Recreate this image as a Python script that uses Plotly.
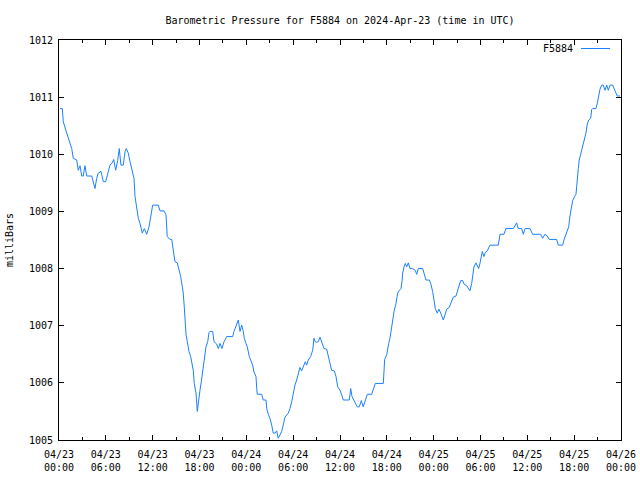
import pandas as pd
import plotly.graph_objects as go

# hours since 2024-04-23 00:00 UTC
hours = [0.13, 0.42, 0.55, 0.77, 0.99, 1.28, 1.63, 1.83, 2.27, 2.47, 2.69, 2.91, 3.11, 3.33, 3.55,
         4.19, 4.39, 4.61, 4.83, 5.03, 5.38, 5.68, 5.98, 6.24, 6.53, 6.83, 7.01, 7.26, 7.52, 7.72,
         7.94, 8.24, 8.46, 8.62, 8.88, 9.10, 9.39, 9.61, 9.74, 9.95, 10.16, 10.38, 10.67, 10.93,
         11.24, 11.53, 11.79, 12.00, 12.72, 12.94, 13.45, 13.71, 13.87, 14.22, 14.44, 14.64, 14.86,
         15.15, 15.41, 15.59, 15.80, 15.92, 16.05, 16.14, 16.27, 16.44, 16.65, 16.87, 17.08, 17.20,
         17.33, 17.55, 17.72, 17.90, 18.06, 18.23, 18.41, 18.61, 18.83, 19.05, 19.22, 19.34, 19.69,
         19.86, 20.20, 20.41, 20.63, 20.88, 21.14, 21.48, 22.25, 22.42, 22.67, 22.97, 23.19, 23.41,
         23.61, 23.74, 23.96, 24.12, 24.38, 24.56, 24.81, 24.98, 25.24, 25.33, 25.40, 25.97, 26.17,
         26.52, 26.61, 26.81, 27.03, 27.25, 27.45, 27.67, 27.89, 28.09, 28.31, 28.53, 28.73, 28.95,
         29.37, 29.59, 29.81, 30.02, 30.23, 30.45, 30.66, 30.87, 31.09, 31.30, 31.55, 31.73, 31.94,
         32.24, 32.50, 32.67, 32.83, 33.01, 33.22, 33.44, 33.69, 33.95, 34.29, 34.50, 34.72, 34.93,
         35.27, 35.49, 35.70, 36.00, 36.22, 36.42, 37.19, 37.37, 37.54, 37.79, 38.05, 38.21, 38.47,
         38.73, 38.98, 39.33, 39.50, 40.06, 40.26, 40.52, 41.55, 41.63, 41.72, 41.98, 42.06, 42.24,
         42.40, 42.53, 42.66, 42.83, 42.95, 43.13, 43.26, 43.39, 43.56, 43.81, 43.94, 44.03, 44.20,
         44.36, 44.54, 44.75, 44.97, 45.31, 45.64, 45.82, 46.03, 46.59, 46.76, 47.01, 47.44, 47.62,
         47.87, 48.04, 48.21, 48.46, 48.68, 48.90, 49.23, 49.45, 49.67, 50.00, 50.26, 50.51, 50.86,
         51.03, 51.15, 51.46, 51.72, 51.88, 52.23, 52.43, 52.65, 52.87, 53.00, 53.16, 53.42, 53.59,
         53.76, 53.93, 54.06, 54.23, 54.44, 54.61, 54.87, 55.12, 55.21, 56.28, 56.41, 56.50, 57.01,
         57.26, 58.20, 58.42, 58.63, 58.84, 59.27, 59.48, 59.70, 60.34, 60.68, 61.71, 61.96, 62.26,
         62.55, 62.81, 63.76, 63.96, 64.53, 64.69, 64.95, 65.12, 65.30, 65.46, 65.63, 65.81, 66.06,
         66.23, 66.32, 66.40, 66.53, 66.65, 66.83, 67.00, 67.17, 67.35, 67.51, 67.68, 67.86, 68.12,
         68.24, 68.37, 68.79, 68.96, 69.14, 69.31, 69.52, 69.73, 69.95, 70.17, 70.37, 70.59, 70.93,
         71.10, 71.36, 71.52, 71.87]

pressure = [1010.80, 1010.80, 1010.57, 1010.45, 1010.37, 1010.25, 1010.10, 1009.93, 1009.90, 1009.72,
            1009.80, 1009.62, 1009.62, 1009.80, 1009.62, 1009.62, 1009.49, 1009.40, 1009.58, 1009.67,
            1009.70, 1009.52, 1009.52, 1009.64, 1009.81, 1009.85, 1009.91, 1009.72, 1009.89, 1010.10,
            1009.81, 1009.81, 1010.05, 1010.10, 1010.02, 1009.87, 1009.72, 1009.58, 1009.26, 1009.08,
            1008.88, 1008.79, 1008.62, 1008.70, 1008.60, 1008.73, 1008.97, 1009.11, 1009.11, 1009.01,
            1009.01, 1008.94, 1008.56, 1008.51, 1008.51, 1008.35, 1008.12, 1008.10, 1007.97, 1007.86,
            1007.68, 1007.57, 1007.33, 1007.04, 1006.85, 1006.72, 1006.55, 1006.46, 1006.34, 1006.22,
            1005.99, 1005.82, 1005.50, 1005.73, 1005.87, 1006.02, 1006.22, 1006.40, 1006.63, 1006.72,
            1006.88, 1006.90, 1006.90, 1006.72, 1006.68, 1006.60, 1006.69, 1006.60, 1006.72, 1006.81,
            1006.81, 1006.90, 1007.01, 1007.10, 1006.90, 1007.01, 1006.90, 1006.78, 1006.69, 1006.63,
            1006.46, 1006.40, 1006.31, 1006.19, 1006.11, 1005.90, 1005.80, 1005.80, 1005.70, 1005.70,
            1005.55, 1005.45, 1005.38, 1005.26, 1005.12, 1005.12, 1005.16, 1005.03, 1005.09, 1005.15,
            1005.26, 1005.40, 1005.47, 1005.55, 1005.67, 1005.84, 1005.96, 1006.05, 1006.19, 1006.27,
            1006.21, 1006.28, 1006.37, 1006.31, 1006.40, 1006.46, 1006.57, 1006.78, 1006.72, 1006.71,
            1006.72, 1006.80, 1006.70, 1006.60, 1006.59, 1006.46, 1006.31, 1006.22, 1006.21, 1006.11,
            1005.93, 1005.87, 1005.79, 1005.70, 1005.70, 1005.90, 1005.76, 1005.70, 1005.63, 1005.58,
            1005.58, 1005.69, 1005.58, 1005.74, 1005.80, 1005.80, 1005.90, 1005.99, 1005.99, 1006.19,
            1006.41, 1006.49, 1006.57, 1006.69, 1006.78, 1006.90, 1007.01, 1007.16, 1007.27, 1007.36,
            1007.48, 1007.57, 1007.61, 1007.65, 1007.77, 1007.92, 1008.03, 1008.09, 1008.03, 1008.10,
            1008.00, 1008.00, 1007.97, 1007.90, 1008.00, 1008.00, 1007.92, 1007.80, 1007.80, 1007.74,
            1007.60, 1007.45, 1007.30, 1007.22, 1007.29, 1007.22, 1007.10, 1007.19, 1007.29, 1007.32,
            1007.40, 1007.50, 1007.52, 1007.60, 1007.68, 1007.79, 1007.79, 1007.73, 1007.70, 1007.65,
            1007.61, 1007.74, 1007.92, 1008.03, 1008.10, 1008.03, 1008.00, 1008.09, 1008.18, 1008.30,
            1008.21, 1008.28, 1008.31, 1008.38, 1008.41, 1008.41, 1008.53, 1008.60, 1008.60, 1008.70,
            1008.70, 1008.76, 1008.80, 1008.70, 1008.70, 1008.60, 1008.70, 1008.70, 1008.60, 1008.60,
            1008.53, 1008.60, 1008.57, 1008.51, 1008.51, 1008.41, 1008.41, 1008.50, 1008.59, 1008.65,
            1008.73, 1008.92, 1009.08, 1009.19, 1009.26, 1009.30, 1009.43, 1009.61, 1009.75, 1009.90,
            1009.99, 1010.07, 1010.16, 1010.25, 1010.37, 1010.53, 1010.60, 1010.63, 1010.78, 1010.80,
            1010.80, 1010.89, 1011.01, 1011.14, 1011.21, 1011.21, 1011.12, 1011.21, 1011.12, 1011.21,
            1011.21, 1011.14, 1011.07, 1011.02, 1011.02]

station = "F5884"
title_text = "Barometric Pressure for F5884 on 2024-Apr-23 (time in UTC)"
y_label = "milliBars"
x_start = "2024-04-23 00:00"
x_end = "2024-04-26 00:00"
y_range = [1005, 1012]

times = pd.Timestamp(x_start) + pd.to_timedelta(hours, unit="h")
line_color = "#1a80ff"
font = dict(family="DejaVu Sans Mono", size=10, color="black")

fig = go.Figure()
fig.add_trace(go.Scatter(x=times, y=pressure, mode="lines",
                         line=dict(color=line_color, width=1), name=station,
                         showlegend=False))

fig.update_layout(
    width=640, height=480,
    margin=dict(l=59, r=19, t=40, b=40, autoexpand=False),
    paper_bgcolor="white", plot_bgcolor="white",
    font=font,
    title=dict(text=title_text, x=0.5, xref="paper", xanchor="center",
               y=1 - 20 / 480, yanchor="middle", font=font),
    xaxis=dict(type="date", range=[x_start, x_end], dtick=6 * 3600 * 1000,
               tick0=x_start, tickformat="%m/%d<br>%H:%M", automargin=False,
               ticks="inside", ticklen=5, tickcolor="black", tickwidth=1,
               ticklabelstandoff=5,
               minor=dict(dtick=3 * 3600 * 1000, ticks="inside", ticklen=3,
                          tickcolor="black", showgrid=False),
               showline=True, linecolor="black", linewidth=1, mirror="ticks",
               showgrid=False, zeroline=False, tickfont=font),
    yaxis=dict(range=y_range, dtick=1, ticks="inside", ticklen=5, tickcolor="black",
               showline=True, linecolor="black", linewidth=1, mirror="ticks",
               showgrid=False, zeroline=False, tickfont=font, automargin=False,
               ticklabelstandoff=3,
               title=dict(text=y_label, font=font, standoff=13)),
)

# legend entry (text left of line sample, gnuplot style)
fig.add_annotation(xref="paper", yref="paper", x=(575 - 59) / 562, y=(440 - 49) / 400,
                   text=station, showarrow=False, xanchor="right", yanchor="middle", font=font)
fig.add_shape(type="line", xref="paper", yref="paper",
              x0=(581 - 59) / 562, x1=(610 - 59) / 562,
              y0=(440 - 48.5) / 400, y1=(440 - 48.5) / 400,
              line=dict(color=line_color, width=1))

fig.write_html("out.html")
